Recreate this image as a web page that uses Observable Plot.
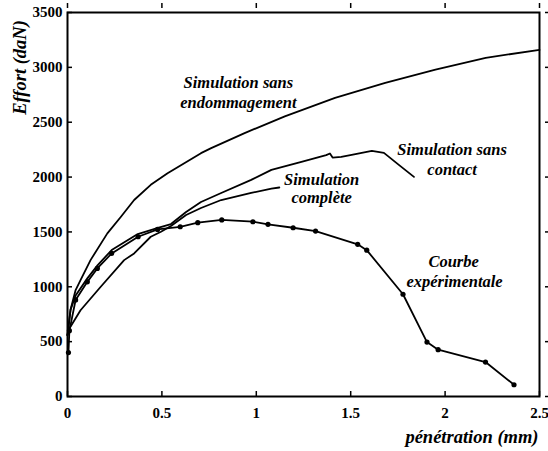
<!DOCTYPE html>
<html><head><meta charset="utf-8">
<script src="https://cdn.jsdelivr.net/npm/d3@7"></script>
<script src="https://cdn.jsdelivr.net/npm/@observablehq/plot@0.6"></script>
<style>body{margin:0;background:#fff}</style>
</head><body><div id="chart"></div>
<script>
const xTicks = [0, 0.5, 1, 1.5, 2, 2.5];
const xTickLabels = ["0", "0.5", "1", "1.5", "2", "2.5"];
const yTicks = [0, 500, 1000, 1500, 2000, 2500, 3000, 3500];
const yTickLabels = ["0", "500", "1000", "1500", "2000", "2500", "3000", "3500"];

const sansEndoX = [0, 0.016, 0.043, 0.069, 0.122, 0.211, 0.282, 0.353, 0.441, 0.53, 0.707, 0.761, 0.938, 1.151, 1.417, 1.683, 1.949, 2.215, 2.5];
const sansEndoY = [560, 790, 970, 1060, 1243, 1487, 1636, 1791, 1929, 2035, 2218, 2264, 2401, 2553, 2721, 2858, 2980, 3087, 3160];

const sansContactX = [0, 0.016, 0.043, 0.106, 0.16, 0.234, 0.372, 0.479, 0.548, 0.628, 0.707, 0.814, 0.973, 1.08, 1.239, 1.37, 1.39, 1.404, 1.45, 1.505, 1.612, 1.676, 1.755, 1.835];
const sansContactY = [560, 790, 920, 1079, 1197, 1335, 1481, 1536, 1572, 1682, 1773, 1855, 1974, 2066, 2139, 2200, 2215, 2178, 2185, 2203, 2239, 2221, 2111, 2002];

const completeX = [0, 0.01, 0.069, 0.176, 0.3, 0.353, 0.441, 0.495, 0.548, 0.628, 0.707, 0.814, 0.973, 1.08, 1.122];
const completeY = [560, 620, 786, 1000, 1243, 1304, 1456, 1502, 1554, 1654, 1718, 1791, 1855, 1895, 1905];

const expX = [0.005, 0.01, 0.043, 0.105, 0.158, 0.234, 0.374, 0.477, 0.597, 0.69, 0.817, 0.982, 1.062, 1.195, 1.314, 1.537, 1.585, 1.777, 1.904, 1.963, 2.214, 2.365];
const expY = [400, 600, 880, 1045, 1167, 1304, 1456, 1523, 1547, 1584, 1609, 1593, 1569, 1538, 1508, 1387, 1334, 932, 496, 427, 314, 107];

const annotText = ["Simulation sans", "endommagement", "Simulation sans", "contact", "Simulation", "complète", "Courbe", "expérimentale"];
const annotX = [0.905, 0.905, 2.037, 2.037, 1.346, 1.346, 2.045, 2.05];
const annotY = [2859, 2676, 2248, 2066, 1974, 1810, 1228, 1046];

const xLabel = "pénétration (mm)";
const yLabel = "Effort (daN)";

const toRows = (name, xs, ys) => xs.map((x, i) => ({series: name, x, y: ys[i]}));
const curves = [
  ...toRows("sansEndo", sansEndoX, sansEndoY),
  ...toRows("sansContact", sansContactX, sansContactY),
  ...toRows("complete", completeX, completeY),
  ...toRows("exp", expX, expY)
];
const expRows = toRows("exp", expX, expY);
const annots = annotText.map((t, i) => ({text: t, x: annotX[i], y: annotY[i]}));

const font = "Liberation Serif";

const chart = Plot.plot({
  width: 548, height: 451,
  marginLeft: 67, marginRight: 9, marginTop: 12, marginBottom: 55,
  x: {domain: [0, 2.5]},
  y: {domain: [0, 3500]},
  style: {fontFamily: font, background: "white", color: "black"},
  marks: [
    Plot.line(curves, {x: "x", y: "y", z: "series", stroke: "black", strokeWidth: 1.8}),
    Plot.dot(expRows, {x: "x", y: "y", r: 2.6, fill: "black"}),
    Plot.text(annots, {x: "x", y: "y", text: "text", fontFamily: font, fontStyle: "italic", fontWeight: "bold", fontSize: 16.5, fill: "black"}),
    Plot.axisX(xTicks, {anchor: "bottom", tickSize: 5, dy: -5, fill: "none", strokeWidth: 1.5}),
    Plot.axisX(xTicks, {anchor: "top", tickSize: 5, dy: -5, fill: "none", strokeWidth: 1.5}),
    Plot.axisY(yTicks, {anchor: "left", tickSize: 5, dx: 5, fill: "none", strokeWidth: 1.5}),
    Plot.axisY(yTicks, {anchor: "right", tickSize: 5, dx: 5, fill: "none", strokeWidth: 1.5}),
    Plot.axisX(xTicks, {anchor: "bottom", tickSize: 0, tickPadding: 11, tickFormat: d => xTickLabels[xTicks.indexOf(d)], fontFamily: font, fontSize: 15, fontWeight: "bold", label: null}),
    Plot.axisY(yTicks, {anchor: "left", tickSize: 0, tickPadding: 5, tickFormat: d => yTickLabels[yTicks.indexOf(d)], fontFamily: font, fontSize: 15, fontWeight: "bold", label: null}),
    Plot.frame({stroke: "black", strokeWidth: 2}),
    Plot.text([xLabel], {frameAnchor: "bottom-right", textAnchor: "end", lineAnchor: "bottom", dx: -1, dy: 46, fontFamily: font, fontSize: 18.5, fontStyle: "italic", fontWeight: "bold", fill: "black"}),
    Plot.text([yLabel], {frameAnchor: "top-left", textAnchor: "middle", lineAnchor: "middle", rotate: -90, dx: -47, dy: 55, fontFamily: font, fontSize: 18.5, fontStyle: "italic", fontWeight: "bold", fill: "black"})
  ]
});
document.getElementById("chart").appendChild(chart);
</script>
</body></html>
